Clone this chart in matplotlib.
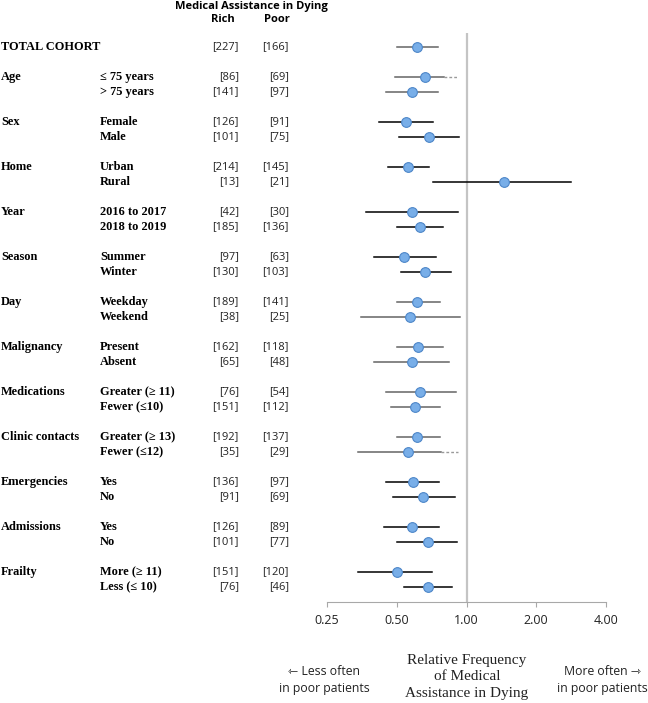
import numpy as np
import matplotlib
matplotlib.use("Agg")
import matplotlib.pyplot as plt
from matplotlib.transforms import blended_transform_factory

# row data (top to bottom)
groups = ["TOTAL COHORT", "Age", "", "Sex", "", "Home", "", "Year", "", "Season", "",
          "Day", "", "Malignancy", "", "Medications", "", "Clinic contacts", "",
          "Emergencies", "", "Admissions", "", "Frailty", ""]
sublabels = ["", "\u2264 75 years", "> 75 years", "Female", "Male", "Urban", "Rural",
             "2016 to 2017", "2018 to 2019", "Summer", "Winter", "Weekday", "Weekend",
             "Present", "Absent", "Greater (\u2265 11)", "Fewer (\u226410)",
             "Greater (\u2265 13)", "Fewer (\u226412)", "Yes", "No", "Yes", "No",
             "More (\u2265 11)", "Less (\u2264 10)"]
rich = [227, 86, 141, 126, 101, 214, 13, 42, 185, 97, 130, 189, 38, 162, 65,
        76, 151, 192, 35, 136, 91, 126, 101, 151, 76]
poor = [166, 69, 97, 91, 75, 145, 21, 30, 136, 63, 103, 141, 25, 118, 48,
        54, 112, 137, 29, 97, 69, 89, 77, 120, 46]
estimate = [0.61, 0.66, 0.58, 0.55, 0.69, 0.56, 1.45, 0.58, 0.63, 0.54, 0.66,
            0.61, 0.57, 0.62, 0.58, 0.63, 0.60, 0.61, 0.56, 0.59, 0.65, 0.58,
            0.68, 0.50, 0.68]
lower = [0.50, 0.49, 0.45, 0.42, 0.51, 0.46, 0.72, 0.37, 0.50, 0.40, 0.52,
         0.50, 0.35, 0.50, 0.40, 0.45, 0.47, 0.50, 0.34, 0.45, 0.48, 0.44,
         0.50, 0.34, 0.54]
upper = [0.75, 0.80, 0.75, 0.72, 0.93, 0.69, 2.83, 0.92, 0.79, 0.74, 0.86,
         0.77, 0.94, 0.79, 0.84, 0.90, 0.77, 0.77, 0.78, 0.76, 0.89, 0.76,
         0.91, 0.71, 0.87]
upper_ext = [np.nan, 0.92, np.nan, np.nan, np.nan, np.nan, np.nan, np.nan, np.nan,
             np.nan, np.nan, np.nan, np.nan, np.nan, np.nan, np.nan, np.nan,
             np.nan, 0.92, np.nan, np.nan, np.nan, np.nan, np.nan, np.nan]
line_dark = [0, 0, 0, 1, 1, 1, 1, 1, 1, 1, 1, 0, 0, 0, 0, 0, 0, 0, 0,
             1, 1, 1, 1, 1, 1]

xticks = [0.25, 0.5, 1, 2, 4]
xticklabels = ["0.25", "0.50", "1.00", "2.00", "4.00"]

# y position: 0 for total, then pairs separated by a blank row
ypos = [0] + [2 + 3 * (i // 2) + (i % 2) for i in range(len(rich) - 1)]

W, H = 648, 703
fig = plt.figure(figsize=(W / 100, H / 100), dpi=100)
ax = fig.add_axes([327 / W, 1 - 602 / H, (606 - 327) / W, (602 - 33) / H])

ax.axvline(1, color="#c4c4c4", lw=1.6, zorder=1)

for i, y in enumerate(ypos):
    col = "black" if line_dark[i] else "#646464"
    ax.plot([lower[i], upper[i]], [y, y], color=col, lw=1.1, zorder=2)
    if not np.isnan(upper_ext[i]):
        ax.plot([upper[i], upper_ext[i]], [y, y], color="#9a9a9a", lw=1.0,
                ls=(0, (2, 1.5)), zorder=2)
ax.plot(estimate, ypos, "o", ms=7, mfc="#78aee8", mec="#4d86c8", mew=0.8,
        ls="none", zorder=3)

ax.set_xscale("log", base=2)
ax.set_xlim(0.25, 4)
ax.set_ylim(37, -14 / 15)
ax.set_xticks(xticks)
ax.set_xticklabels(xticklabels)
ax.minorticks_off()
ax.set_yticks([])
for s in ["top", "right", "left"]:
    ax.spines[s].set_visible(False)
ax.spines["bottom"].set_color("#a8a8a8")
ax.tick_params(axis="x", direction="out", length=3.5, color="#a8a8a8",
               labelsize=9, pad=5, labelcolor="#222222")
for lab in ax.get_xticklabels():
    lab.set_family(["Open Sans", "DejaVu Sans"])

# left table
tr = blended_transform_factory(fig.transFigure, ax.transData)
serif = "Liberation Serif"
sans = ["Open Sans", "DejaVu Sans"]
for i, y in enumerate(ypos):
    if groups[i]:
        ax.text(1 / W, y, groups[i], transform=tr, ha="left", va="center",
                fontsize=8.9, fontweight="bold", family=serif, clip_on=False)
    if sublabels[i]:
        ax.text(100 / W, y, sublabels[i], transform=tr, ha="left", va="center",
                fontsize=8.9, fontweight="bold", family=serif, clip_on=False)
    ax.text(239 / W, y, "[%d]" % rich[i], transform=tr, ha="right", va="center",
            fontsize=8, family=sans, color="#222222", clip_on=False)
    ax.text(289 / W, y, "[%d]" % poor[i], transform=tr, ha="right", va="center",
            fontsize=8, family=sans, color="#222222", clip_on=False)

fig.text(251 / W, 1 - 6 / H, "Medical Assistance in Dying", ha="center",
         va="center", fontsize=8, fontweight="bold", family=sans)
fig.text(223 / W, 1 - 19 / H, "Rich", ha="center", va="center",
         fontsize=8, fontweight="bold", family=sans)
fig.text(277 / W, 1 - 19 / H, "Poor", ha="center", va="center",
         fontsize=8, fontweight="bold", family=sans)

# bottom captions
fig.text(467 / W, 1 - 677 / H, "Relative Frequency\nof Medical\nAssistance in Dying",
         ha="center", va="center", fontsize=11, family=serif, linespacing=1.32,
         color="#222222")
fig.text(324 / W, 1 - 680 / H, "\u21fd Less often\nin poor patients",
         ha="center", va="center", fontsize=8.8, family=sans, linespacing=1.45,
         color="#222222")
fig.text(602 / W, 1 - 680 / H, "More often \u21fe\nin poor patients",
         ha="center", va="center", fontsize=8.8, family=sans, linespacing=1.45,
         color="#222222")

fig.savefig("out.png", dpi=100)
